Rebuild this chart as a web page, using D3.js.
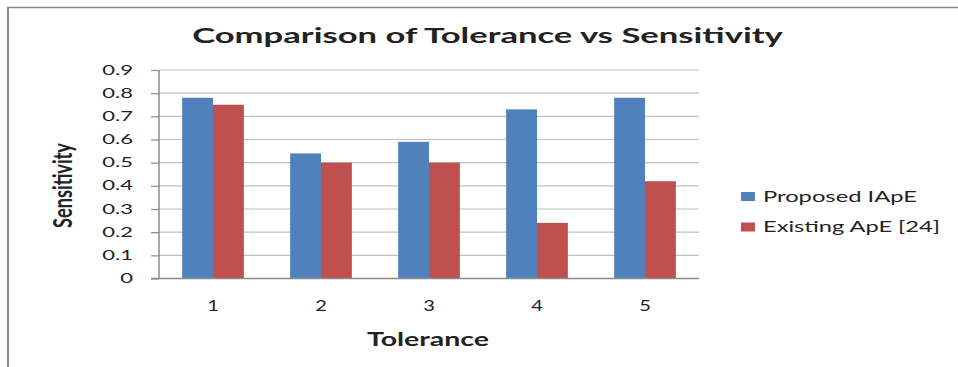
<!DOCTYPE html>
<html>
<head>
<meta charset="utf-8">
<script src="https://cdn.jsdelivr.net/npm/d3@7"></script>
<style>
  html, body { margin: 0; padding: 0; background: #fff; }
  svg { display: block; }
  text { font-family: Lato, "Open Sans", sans-serif; fill: #222; }
</style>
</head>
<body>
<svg id="chart" width="958" height="367"></svg>
<script>
// Chart data
const categories = ["1", "2", "3", "4", "5"];
const seriesNames = ["Proposed IApE", "Existing ApE [24]"];
const proposed = [0.78, 0.54, 0.59, 0.73, 0.78];
const existing = [0.75, 0.50, 0.50, 0.24, 0.42];
const yTicks = [0, 0.1, 0.2, 0.3, 0.4, 0.5, 0.6, 0.7, 0.8, 0.9];
const colors = ["#4F81BD", "#C0504D"];

const svg = d3.select("#chart");

// Outer frame (top and left edges)
svg.append("line").attr("x1", 7).attr("x2", 958).attr("y1", 7.5).attr("y2", 7.5)
  .attr("stroke", "#8a8a8a").attr("stroke-width", 1.5);
svg.append("line").attr("x1", 8).attr("x2", 8).attr("y1", 7).attr("y2", 367)
  .attr("stroke", "#8a8a8a").attr("stroke-width", 2);

// Plot area
const plot = { left: 159, right: 699, top: 70, bottom: 278.5 };

const x0 = d3.scaleBand().domain(categories).range([plot.left, plot.right]).paddingInner(0).paddingOuter(0);
const groupWidth = x0.bandwidth() * 2 / 3.5;   // two bars + 150% gap
const x1 = d3.scaleBand().domain(seriesNames).range([0, groupWidth]);
const y = d3.scaleLinear().domain([0, 0.9]).range([plot.bottom, plot.top]);

// Gridlines
svg.append("g").selectAll("line").data(yTicks.filter(d => d > 0)).join("line")
  .attr("x1", plot.left).attr("x2", plot.right)
  .attr("y1", d => y(d)).attr("y2", d => y(d))
  .attr("stroke", "#c0c0c0").attr("stroke-width", 1.2);

// Bars
const rows = categories.map((c, i) => ({ cat: c, values: [proposed[i], existing[i]] }));
const groups = svg.append("g").selectAll("g").data(rows).join("g")
  .attr("transform", d => `translate(${x0(d.cat) + (x0.bandwidth() - groupWidth) / 2},0)`);
groups.selectAll("rect").data(d => d.values.map((v, k) => ({ v, k }))).join("rect")
  .attr("x", d => x1(seriesNames[d.k]))
  .attr("width", x1.bandwidth())
  .attr("y", d => y(d.v))
  .attr("height", d => y(0) - y(d.v))
  .attr("fill", d => colors[d.k]);

// Axes
const yAxis = d3.axisLeft(y).tickValues(yTicks).tickSize(8).tickFormat(d => d === 0 ? "0" : d3.format(".1f")(d));
const yg = svg.append("g").attr("transform", `translate(${plot.left},0)`).call(yAxis);
yg.select(".domain").remove();
yg.selectAll(".tick line").attr("stroke", "#8a8a8a").attr("stroke-width", 1.2);
yg.selectAll(".tick text").remove();
svg.append("line").attr("x1", plot.left).attr("x2", plot.left).attr("y1", plot.top).attr("y2", plot.bottom)
  .attr("stroke", "#8a8a8a").attr("stroke-width", 1.5);
svg.append("line").attr("x1", plot.left - 8).attr("x2", plot.right).attr("y1", plot.bottom).attr("y2", plot.bottom)
  .attr("stroke", "#8a8a8a").attr("stroke-width", 1.5);

// Horizontally stretched text helper
function stretchedText(parent, str, x, yPos, size, sx, anchor, weight) {
  return parent.append("text")
    .attr("transform", `translate(${x},${yPos}) scale(${sx},1)`)
    .attr("text-anchor", anchor)
    .attr("font-size", size)
    .attr("font-weight", weight || "normal")
    .text(str);
}

// Y tick labels
yTicks.forEach(t => {
  stretchedText(svg, t === 0 ? "0" : d3.format(".1f")(t), 133, y(t) + 4.6, 12.6, 1.75, "end")
    .attr("fill", "#333");
});

// X tick labels
categories.forEach(c => {
  stretchedText(svg, c, x0(c) + x0.bandwidth() / 2, 310.5, 15.5, 1.3, "middle").attr("fill", "#333");
});

// Title, fitted to its width
const title = stretchedText(svg, "Comparison of Tolerance vs Sensitivity", 487.5, 43.3, 21.5, 1, "middle", "bold")
  .attr("fill", "#111");
const tw = title.node().getComputedTextLength();
title.attr("transform", `translate(487.5,43.3) scale(${591 / tw},1)`);

// X axis title
const xt = stretchedText(svg, "Tolerance", 428, 345.7, 19.5, 1, "middle", "bold").attr("fill", "#111");
xt.attr("transform", `translate(428,345.7) scale(${122 / xt.node().getComputedTextLength()},1)`);

// Y axis title (rotated)
const ytl = svg.append("text")
  .attr("text-anchor", "middle")
  .attr("font-size", 17)
  .attr("font-weight", "bold")
  .attr("fill", "#111")
  .text("Sensitivity");
const yl = ytl.node().getComputedTextLength();
ytl.attr("transform", `translate(72,185.5) scale(1.6,1) rotate(-90) scale(${85 / yl},1)`);

// Legend
const legend = svg.append("g");
seriesNames.forEach((name, i) => {
  const ly = 192 + i * 30.5;
  legend.append("rect").attr("x", 741).attr("y", ly).attr("width", 14).attr("height", 9).attr("fill", colors[i]);
  const t = stretchedText(legend, name, 763, ly + 9.8, 14.8, 1, "start").attr("fill", "#333");
  const target = i === 0 ? 154 : 177;
  t.attr("transform", `translate(763,${ly + 9.8}) scale(${target / t.node().getComputedTextLength()},1)`);
});
</script>
</body>
</html>
